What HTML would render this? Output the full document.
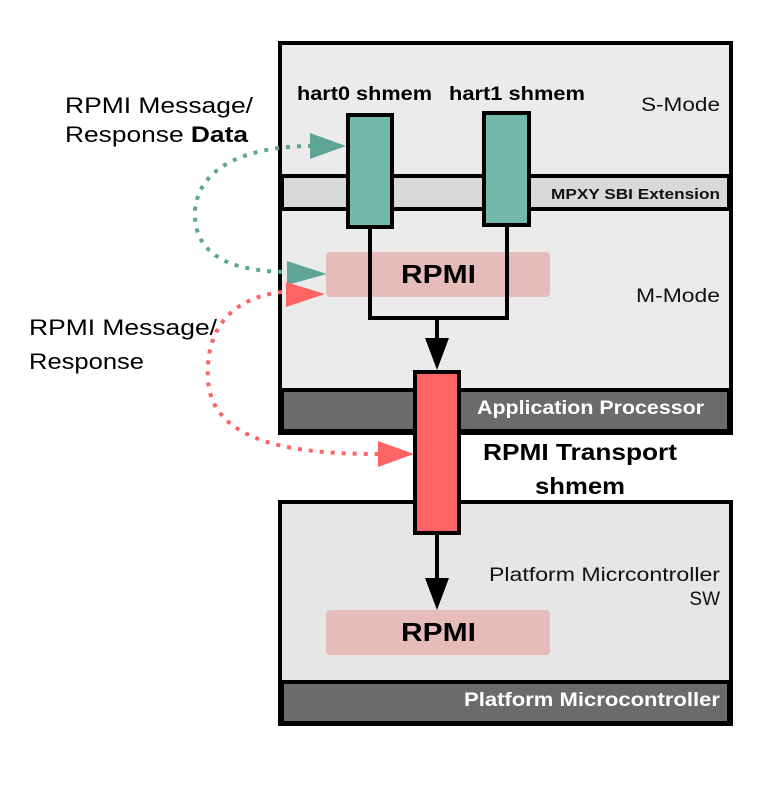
<!DOCTYPE html>
<html><head><style>
body{margin:0;background:#fff;}
svg{display:block;}
text{font-family:"Liberation Sans",sans-serif;}
</style></head><body>
<svg width="783" height="791" viewBox="0 0 783 791">
<rect x="280" y="43" width="451" height="390" fill="#ebebeb" stroke="#000" stroke-width="4"/>
<rect x="282" y="176" width="447" height="33" fill="#d9d9d9" stroke="#000" stroke-width="4"/>
<rect x="282" y="390" width="447" height="41" fill="#6b6b6b" stroke="#000" stroke-width="4"/>
<text x="641" y="111" font-size="19" textLength="79" lengthAdjust="spacingAndGlyphs" fill="#111">S-Mode</text>
<text x="551" y="199" font-size="15" font-weight="bold" textLength="169" lengthAdjust="spacingAndGlyphs" fill="#111">MPXY SBI Extension</text>
<text x="636" y="302" font-size="19" textLength="84" lengthAdjust="spacingAndGlyphs" fill="#111">M-Mode</text>
<text x="477" y="414" font-size="19" font-weight="bold" textLength="227" lengthAdjust="spacingAndGlyphs" fill="#fff">Application Processor</text>
<text x="297" y="100" font-size="19" font-weight="bold" textLength="135" lengthAdjust="spacingAndGlyphs">hart0 shmem</text>
<text x="449" y="100" font-size="19" font-weight="bold" textLength="136" lengthAdjust="spacingAndGlyphs">hart1 shmem</text>
<rect x="326" y="252" width="224" height="45" rx="4" fill="#e6bcbb"/>
<text x="401" y="283" font-size="26" font-weight="bold" textLength="75" lengthAdjust="spacingAndGlyphs">RPMI</text>
<polyline points="370,226 370,318 507,318 507,224" fill="none" stroke="#000" stroke-width="4"/>
<line x1="437" y1="318" x2="437" y2="340" stroke="#000" stroke-width="4"/>
<polygon points="425,338 449,338 437,370" fill="#000"/>
<rect x="348" y="115" width="44" height="112" fill="#72b9ac" stroke="#000" stroke-width="4"/>
<rect x="484" y="113" width="45" height="112" fill="#72b9ac" stroke="#000" stroke-width="4"/>
<rect x="280" y="502" width="451" height="222" fill="#e6e6e6" stroke="#000" stroke-width="4"/>
<rect x="282" y="682" width="447" height="41" fill="#6b6b6b" stroke="#000" stroke-width="4"/>
<text x="489" y="581" font-size="19" textLength="231" lengthAdjust="spacingAndGlyphs" fill="#111">Platform Micrcontroller</text>
<text x="720" y="605" font-size="19" text-anchor="end" fill="#111">SW</text>
<text x="464" y="706" font-size="19" font-weight="bold" textLength="256" lengthAdjust="spacingAndGlyphs" fill="#fff">Platform Microcontroller</text>
<rect x="326" y="610" width="224" height="45" rx="4" fill="#e6bcbb"/>
<text x="401" y="641" font-size="26" font-weight="bold" textLength="75" lengthAdjust="spacingAndGlyphs">RPMI</text>
<line x1="437" y1="533" x2="437" y2="580" stroke="#000" stroke-width="4"/>
<polygon points="425,578 449,578 437,610" fill="#000"/>
<rect x="415" y="372" width="44" height="161" fill="#ff6464" stroke="#000" stroke-width="4"/>
<text x="483" y="460" font-size="23" font-weight="bold" textLength="194" lengthAdjust="spacingAndGlyphs">RPMI Transport</text>
<text x="535" y="494" font-size="23" font-weight="bold" textLength="90" lengthAdjust="spacingAndGlyphs">shmem</text>
<text x="65" y="113" font-size="22" textLength="188" lengthAdjust="spacingAndGlyphs">RPMI Message/</text>
<text x="65" y="142" font-size="22" textLength="183" lengthAdjust="spacingAndGlyphs">Response <tspan font-weight="bold">Data</tspan></text>
<text x="29" y="335" font-size="22" textLength="188" lengthAdjust="spacingAndGlyphs">RPMI Message/</text>
<text x="29" y="369" font-size="22" textLength="115" lengthAdjust="spacingAndGlyphs">Response</text>
<path d="M312,146 C260,146 200,160 195,210 C192,265 250,272 292,272" fill="none" stroke="#5fa595" stroke-width="4" stroke-dasharray="4,7"/>
<polygon points="310,133 346,146 310,159" fill="#5fa595"/>
<polygon points="287,261 327,274 287,285" fill="#5fa595"/>
<path d="M282,292 C230,298 205,330 208,380 C212,445 300,454 378,454" fill="none" stroke="#ff6464" stroke-width="4" stroke-dasharray="4,7"/>
<polygon points="286,282 325,294 286,307" fill="#ff6464"/>
<polygon points="378,441 414,454 378,467" fill="#ff6464"/>
</svg>
</body></html>
